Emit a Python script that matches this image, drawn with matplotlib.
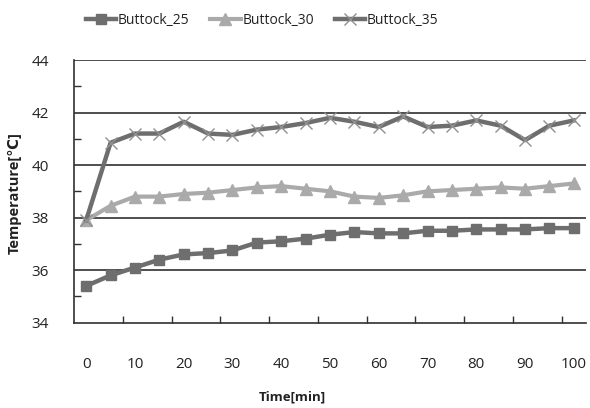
import matplotlib
matplotlib.use("Agg")
import matplotlib.pyplot as plt
from matplotlib.ticker import FixedLocator

plt.rcParams['font.family'] = ['Open Sans', 'DejaVu Sans']
plt.rcParams['xtick.direction'] = 'in'
plt.rcParams['ytick.direction'] = 'in'

time_min = [0, 5, 10, 15, 20, 25, 30, 35, 40, 45, 50, 55, 60, 65, 70, 75, 80, 85, 90, 95, 100]
buttock_25 = [35.4, 35.8, 36.1, 36.4, 36.6, 36.65, 36.75, 37.05, 37.1, 37.2, 37.35,
              37.45, 37.4, 37.4, 37.5, 37.5, 37.55, 37.55, 37.55, 37.6, 37.6]
buttock_30 = [37.9, 38.45, 38.8, 38.8, 38.9, 38.95, 39.05, 39.15, 39.2, 39.1, 39.0,
              38.8, 38.75, 38.85, 39.0, 39.05, 39.1, 39.15, 39.1, 39.2, 39.3]
buttock_35 = [37.9, 40.85, 41.2, 41.2, 41.65, 41.2, 41.15, 41.35, 41.45, 41.6, 41.8,
              41.65, 41.45, 41.85, 41.45, 41.5, 41.7, 41.5, 40.95, 41.5, 41.7]
series_names = ["Buttock_25", "Buttock_30", "Buttock_35"]
x_tick_labels = ["0", "10", "20", "30", "40", "50", "60", "70", "80", "90", "100"]
y_ticks = [34, 36, 38, 40, 42, 44]

fig = plt.figure(figsize=(5.9, 4.08), dpi=100)
ax = fig.add_axes([74/590, 1-322.7/408, (586-74)/590, (322.7-60)/408])

ax.set_xlim(-2.5, 102.5)
ax.set_ylim(34, 44)

for y in y_ticks[1:]:
    ax.axhline(y, color='#303030', lw=1.2, zorder=1)

ax.plot(time_min, buttock_25, color='#6e6e6e', lw=3.2, marker='s', ms=7.5,
        mfc='#6e6e6e', mec='#6e6e6e', label=series_names[0], zorder=3)
ax.plot(time_min, buttock_30, color='#aaaaaa', lw=3.0, marker='^', ms=8.5,
        mfc='#aaaaaa', mec='#aaaaaa', label=series_names[1], zorder=3)
ax.plot(time_min, buttock_35, color='#6e6e6e', lw=3.2, marker='x', ms=9,
        mew=1.0, mec='#909090', label=series_names[2], zorder=4)

for s in ['top', 'right']:
    ax.spines[s].set_visible(False)
for s in ['left', 'bottom']:
    ax.spines[s].set_color('#303030')
    ax.spines[s].set_linewidth(1.2)

ax.set_xticks([int(t) for t in x_tick_labels])
ax.set_xticklabels(x_tick_labels)
ax.xaxis.set_minor_locator(FixedLocator([7.5 + 10*k for k in range(10)]))
ax.tick_params(axis='x', which='major', length=0, pad=25, labelsize=11, labelcolor='#222222')
ax.tick_params(axis='x', which='minor', direction='in', length=5, width=1, color='#303030')

ax.set_yticks(y_ticks)
ax.yaxis.set_minor_locator(FixedLocator([35, 37, 39, 41, 43]))
ax.tick_params(axis='y', which='major', length=0, pad=18, labelsize=11, labelcolor='#222222')
ax.tick_params(axis='y', which='minor', direction='in', length=5, width=1, color='#303030')

fig.text(292/590, 1-397/408, "Time[min]", ha='center', va='center',
         fontsize=9.5, fontweight='bold', color='#222222')
fig.text(15/590, 1-193/408, "Temperature[℃]", ha='center', va='center', rotation=90,
         fontsize=10.5, fontweight='bold', color='#222222')

fig.legend(loc='center', bbox_to_anchor=(262/590, 1-20/408), ncol=3, frameon=False,
           fontsize=10, handlelength=2.2, handletextpad=0.1, columnspacing=1.5,
           borderaxespad=0, labelcolor='#222222')

fig.savefig("out.png", dpi=100)
